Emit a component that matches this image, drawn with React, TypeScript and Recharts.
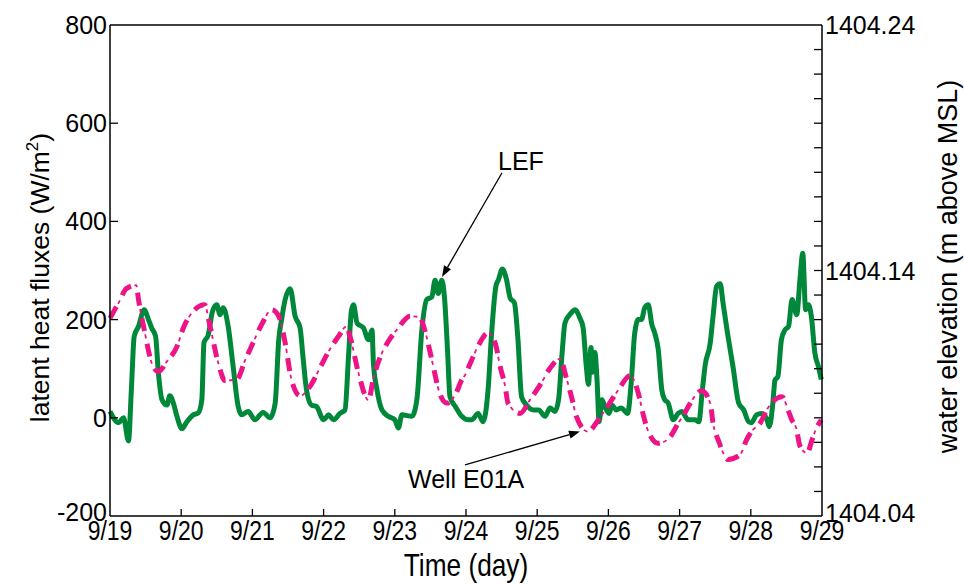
import React from 'react';
import { LineChart, Line, XAxis, YAxis, ReferenceLine } from 'recharts';

// x values are days after 9/19 00:00
const dayTicks = [0, 1, 2, 3, 4, 5, 6, 7, 8, 9, 10];
const dayLabels = ['9/19', '9/20', '9/21', '9/22', '9/23', '9/24', '9/25', '9/26', '9/27', '9/28', '9/29'];
const fluxTicks = [-200, 0, 200, 400, 600, 800];
const levelTicks = [
  1404.04, 1404.05, 1404.06, 1404.07, 1404.08, 1404.09, 1404.1, 1404.11, 1404.12, 1404.13,
  1404.14, 1404.15, 1404.16, 1404.17, 1404.18, 1404.19, 1404.2, 1404.21, 1404.22, 1404.23, 1404.24,
];

// LEF latent heat flux (W/m2)
const lefDays = [
  0, 0.12, 0.19, 0.26, 0.3, 0.34, 0.4, 0.48, 0.54, 0.585, 0.64, 0.68, 0.73, 0.8, 0.84, 0.89, 0.94,
  1.01, 1.08, 1.17, 1.24, 1.29, 1.32, 1.38, 1.44, 1.5, 1.545, 1.59, 1.66, 1.73, 1.8, 1.85, 1.94,
  2.035, 2.15, 2.25, 2.32, 2.37, 2.41, 2.46, 2.53, 2.6, 2.67, 2.71, 2.76, 2.83, 2.9,
  3.0, 3.07, 3.14, 3.23, 3.3, 3.35, 3.39, 3.42, 3.47, 3.56, 3.63, 3.68, 3.7, 3.75, 3.82, 3.91,
  4.0, 4.05, 4.1, 4.24, 4.31, 4.38, 4.45, 4.52, 4.565, 4.61, 4.66, 4.7, 4.74, 4.775, 4.85, 4.94,
  5.03, 5.08, 5.17, 5.24, 5.31, 5.36, 5.42, 5.455, 5.51, 5.57, 5.62, 5.68, 5.73, 5.78, 5.85, 5.95,
  6.02, 6.11, 6.18, 6.25, 6.3, 6.35, 6.39, 6.475, 6.53, 6.6, 6.645, 6.69, 6.72, 6.755, 6.78, 6.81, 6.84, 6.87, 6.91, 6.95,
  7.01, 7.05, 7.11, 7.18, 7.27, 7.32, 7.37, 7.42, 7.465, 7.51, 7.56, 7.61, 7.65, 7.7, 7.75, 7.79, 7.84, 7.91, 7.98,
  8.03, 8.12, 8.22, 8.27, 8.32, 8.36, 8.43, 8.47, 8.52, 8.57, 8.61, 8.68, 8.75, 8.83, 8.9, 8.97,
  9.01, 9.08, 9.15, 9.22, 9.26, 9.31, 9.34, 9.38, 9.43, 9.48, 9.53, 9.58, 9.645, 9.69, 9.73, 9.77, 9.81, 9.85, 9.9, 9.95, 9.99,
];
const lefFlux = [
  13, -10, 0, -47, 57, 166, 186, 220, 200, 183, 166, 91, 37, 26, 45, 30, 3,
  -22, -8, 6, 10, 37, 153, 169, 217, 230, 210, 224, 186, 104, 23, 6, 13,
  -4, 11, 0, 30, 159, 200, 241, 263, 207, 183, 125, 57, 26, 23,
  -4, 6, -4, 9, 16, 125, 217, 230, 193, 183, 159, 179, 111, 57, 16, 3,
  -4, -21, 6, 3, 37, 179, 241, 246, 280, 253, 280, 241, 139, 43, 23, 3,
  -4, -4, 9, -8, 57, 173, 268, 281, 303, 281, 244, 234, 159, 43, 26, 16,
  16, 3, 20, 13, 37, 132, 193, 213, 220, 203, 183, 104, 68, 143, 93, 133, 78, -8, 37, 23,
  9, 26, 16, 20, 9, 71, 173, 200, 200, 224, 230, 190, 173, 139, 57, 37, 30, -4, 9,
  13, -4, -4, -8, 57, 108, 152, 207, 268, 273, 234, 166, 104, 30, 16, -8,
  -10, 6, 9, -1, -18, 30, 77, 84, 159, 179, 186, 241, 210, 281, 335, 220, 230, 207, 132, 104, 78,
];

// Well E01A water elevation (m above MSL)
const wellDays = [
  0, 0.12, 0.23, 0.37, 0.4, 0.49, 0.585, 0.68, 0.8, 0.94,
  1.03, 1.17, 1.33, 1.4, 1.52, 1.615, 1.78, 1.9,
  2.01, 2.13, 2.27, 2.37, 2.46, 2.55, 2.67, 2.81, 2.95,
  3.07, 3.21, 3.32, 3.37, 3.49, 3.63, 3.7, 3.79, 3.91,
  4.05, 4.21, 4.35, 4.42, 4.52, 4.63, 4.73, 4.85, 4.94, 4.99,
  5.06, 5.18, 5.31, 5.41, 5.48, 5.55, 5.59, 5.76, 5.9,
  6.05, 6.18, 6.32, 6.41, 6.49, 6.55, 6.71, 6.86,
  7.0, 7.14, 7.31, 7.42, 7.49, 7.54, 7.7, 7.87, 7.98,
  8.07, 8.15, 8.31, 8.43, 8.47, 8.55, 8.68, 8.85, 8.94,
  9.01, 9.13, 9.24, 9.31, 9.44, 9.53, 9.575, 9.64, 9.69, 9.79, 9.86, 9.91, 9.99,
];
const wellLevel = [
  1404.1206, 1404.1268, 1404.1326, 1404.134, 1404.1282, 1404.1146, 1404.1024, 1404.0988, 1404.103, 1404.109,
  1404.1166, 1404.1234, 1404.126, 1404.118, 1404.1024, 1404.0952, 1404.0956, 1404.1036,
  1404.1106, 1404.118, 1404.124, 1404.1214, 1404.1106, 1404.0954, 1404.089, 1404.0928, 1404.1004,
  1404.107, 1404.1132, 1404.1172, 1404.1132, 1404.0982, 1404.0872, 1404.0962, 1404.1044, 1404.1112,
  1404.1166, 1404.1214, 1404.121, 1404.1158, 1404.1036, 1404.09, 1404.086, 1404.0894, 1404.0954, 1404.0976,
  1404.1022, 1404.1098, 1404.1146, 1404.1104, 1404.1008, 1404.0928, 1404.086, 1404.0818, 1404.0874,
  1404.0938, 1404.1002, 1404.104, 1404.0962, 1404.0876, 1404.0806, 1404.0744, 1404.0792,
  1404.0852, 1404.0914, 1404.0972, 1404.09, 1404.0812, 1404.076, 1404.0696, 1404.0724, 1404.0778,
  1404.0818, 1404.086, 1404.091, 1404.086, 1404.0778, 1404.0704, 1404.063, 1404.065, 1404.071,
  1404.0744, 1404.0778, 1404.084, 1404.0866, 1404.0886, 1404.0826, 1404.0792, 1404.0756, 1404.0686, 1404.0656, 1404.071, 1404.075, 1404.0792,
];

const lefData = lefDays.map((t, i) => ({ t, flux: lefFlux[i] }));
const wellData = wellDays.map((t, i) => ({ t, level: wellLevel[i] }));

const FONT = '"Liberation Sans", Arial, Helvetica, sans-serif';
const GREEN = '#00883a';
const PINK = '#ec1486';

const DayTick = (props: any) => {
  const { x, y, payload } = props;
  const i = dayTicks.indexOf(payload.value);
  return (
    <g>
      {i > 0 && i < dayTicks.length - 1 && (
        <line x1={x} y1={y} x2={x} y2={y - 7} stroke="#000" strokeWidth={1.3} />
      )}
      <text transform={`translate(${x},${y + 24}) scale(0.82,1)`} textAnchor="middle" fontSize={28} fontFamily={FONT} fill="#000">
        {dayLabels[i]}
      </text>
    </g>
  );
};

const FluxTick = (props: any) => {
  const { x, y, payload } = props;
  const v = payload.value;
  // bottom label sits a little higher, clear of the date labels
  const nudge = v === -200 ? -4 : 0;
  return (
    <g>
      {v > -200 && v < 800 && <line x1={x} y1={y} x2={x + 8} y2={y} stroke="#000" strokeWidth={1.3} />}
      <text x={x - 3} y={y + nudge} dy="0.36em" textAnchor="end" fontSize={25} fontFamily={FONT} fill="#000">
        {v}
      </text>
    </g>
  );
};

const LevelTick = (props: any) => {
  const { x, y, payload, index } = props;
  const last = levelTicks.length - 1;
  const nudge = index === 0 ? -3 : 0;
  return (
    <g>
      {index > 0 && index < last && <line x1={x} y1={y} x2={x - 8} y2={y} stroke="#000" strokeWidth={1.3} />}
      {index % 10 === 0 && (
        <text x={x + 3} y={y + nudge} dy="0.36em" textAnchor="start" fontSize={25} fontFamily={FONT} fill="#000">
          {payload.value.toFixed(2)}
        </text>
      )}
    </g>
  );
};

const arrow = (label: string, dx: number, dy: number) => (props: any) => {
  const { x1, y1, x2, y2 } = props;
  const ang = Math.atan2(y2 - y1, x2 - x1);
  const len = 11;
  const half = 4;
  const bx = x2 - len * Math.cos(ang);
  const by = y2 - len * Math.sin(ang);
  const px = -Math.sin(ang) * half;
  const py = Math.cos(ang) * half;
  return (
    <g>
      <line x1={x1} y1={y1} x2={bx} y2={by} stroke="#000" strokeWidth={1.3} />
      <polygon points={`${x2},${y2} ${bx + px},${by + py} ${bx - px},${by - py}`} fill="#000" />
      <text x={x1 + dx} y={y1 + dy} fontSize={25} fontFamily={FONT} fill="#000">
        {label}
      </text>
    </g>
  );
};

export default function App() {
  return (
    <div style={{ position: 'absolute', left: 0, top: 0, width: 964, height: 585 }}>
      <LineChart width={964} height={585} margin={{ top: 25, right: 0, bottom: 0, left: 0 }}>
        <XAxis
          type="number"
          dataKey="t"
          domain={[0, 10]}
          ticks={dayTicks}
          interval={0}
          tickSize={0}
          tickMargin={0}
          tickLine={false}
          tick={<DayTick />}
          height={69}
          axisLine={{ stroke: '#000', strokeWidth: 1.5 }}
          label={{
            content: ({ viewBox }: any) => (
              <text
                transform={`translate(${viewBox.x + viewBox.width / 2},${viewBox.y + 60}) scale(0.82,1)`}
                textAnchor="middle"
                fontSize={32}
                fontFamily={FONT}
                fill="#000"
              >
                Time (day)
              </text>
            ),
          }}
        />
        <YAxis
          yAxisId="left"
          type="number"
          domain={[-200, 800]}
          ticks={fluxTicks}
          interval={0}
          tickSize={0}
          tickMargin={0}
          tickLine={false}
          tick={<FluxTick />}
          width={110}
          axisLine={{ stroke: '#000', strokeWidth: 1.5 }}
          label={{
            content: ({ viewBox }: any) => (
              <text
                transform={`translate(${viewBox.x + 49},${viewBox.y + viewBox.height / 2 + 7}) rotate(-90)`}
                textAnchor="middle"
                fontSize={26.5}
                fontFamily={FONT}
                fill="#000"
              >
                latent heat fluxes (W/m
                <tspan dy={-11} fontSize={17}>2</tspan>
                <tspan dy={11}>)</tspan>
              </text>
            ),
          }}
        />
        <YAxis
          yAxisId="right"
          orientation="right"
          type="number"
          domain={[1404.04, 1404.24]}
          ticks={levelTicks}
          interval={0}
          tickSize={0}
          tickMargin={0}
          tickLine={false}
          tick={<LevelTick />}
          width={142}
          axisLine={{ stroke: '#000', strokeWidth: 1.5 }}
          label={{
            content: ({ viewBox }: any) => (
              <text
                transform={`translate(${viewBox.x + 135},${viewBox.y + viewBox.height / 2 - 4}) rotate(-90)`}
                textAnchor="middle"
                fontSize={27}
                fontFamily={FONT}
                fill="#000"
              >
                water elevation (m above MSL)
              </text>
            ),
          }}
        />
        <ReferenceLine yAxisId="left" y={800} stroke="#000" strokeWidth={1.5} />
        <Line
          data={lefData}
          dataKey="flux"
          yAxisId="left"
          type="monotone"
          stroke={GREEN}
          strokeWidth={5}
          dot={false}
          activeDot={false}
          isAnimationActive={false}
        />
        <Line
          data={wellData}
          dataKey="level"
          name="well-dash"
          yAxisId="right"
          type="monotone"
          stroke={PINK}
          strokeWidth={5}
          strokeDasharray="13 13"
          dot={false}
          activeDot={false}
          isAnimationActive={false}
        />
        <Line
          data={wellData}
          dataKey="level"
          name="well-dot"
          yAxisId="right"
          type="monotone"
          stroke={PINK}
          strokeWidth={1.8}
          strokeDasharray="0 16.5 4 5.5"
          dot={false}
          activeDot={false}
          isAnimationActive={false}
        />
        <ReferenceLine
          yAxisId="left"
          segment={[{ x: 5.506, y: 499 }, { x: 4.663, y: 287 }]}
          shape={arrow('LEF', -4, -3)}
        />
        <ReferenceLine
          yAxisId="left"
          segment={[{ x: 4.986, y: -96 }, { x: 6.601, y: -28 }]}
          shape={arrow('Well E01A', -57, 23)}
        />
      </LineChart>
    </div>
  );
}
